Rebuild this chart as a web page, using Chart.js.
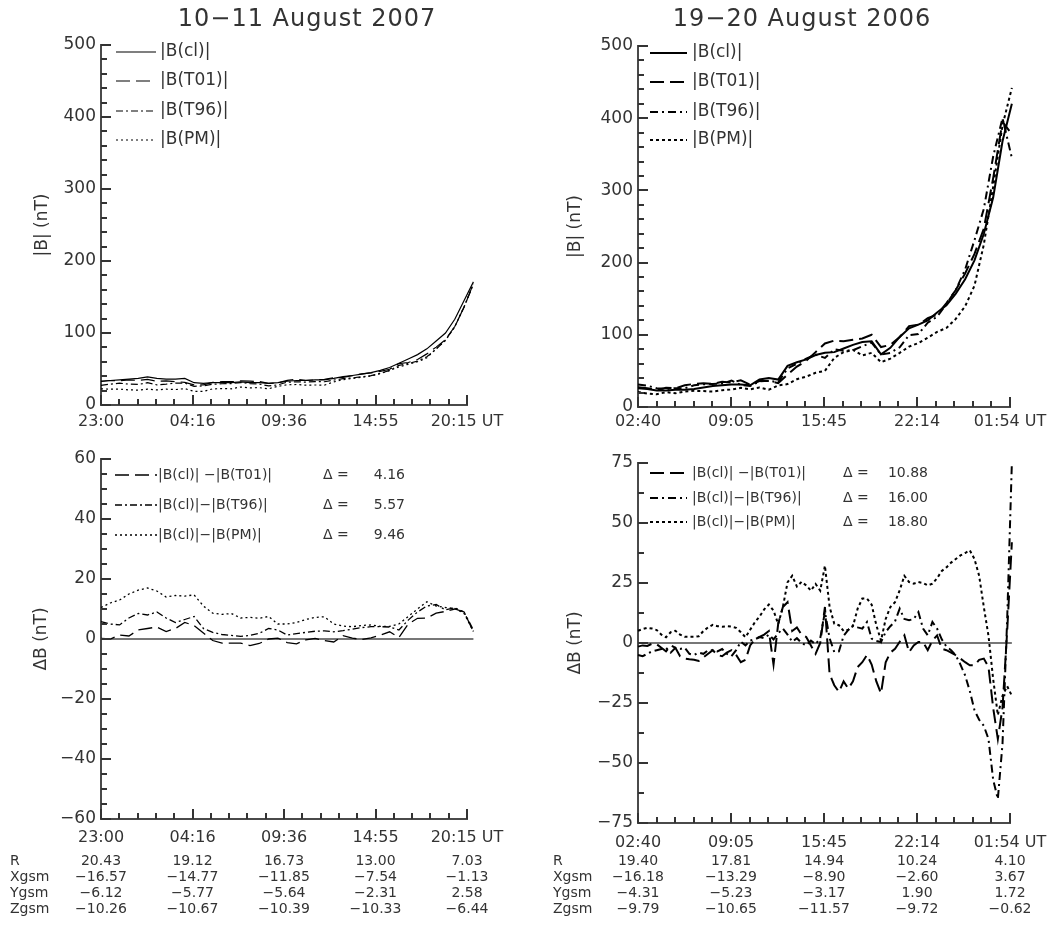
<!DOCTYPE html>
<html>
<head>
<meta charset="utf-8">
<script src="https://cdn.jsdelivr.net/npm/chart.js@4.4.1/dist/chart.umd.min.js"></script>
<style>
body { margin: 0; background: #fff; }
#wrap { position: relative; width: 1064px; height: 925px; background: #fff; }
canvas { position: absolute; }
</style>
</head>
<body>
<div id="wrap">
  <canvas id="tl" width="532" height="440" style="left:0;top:0"></canvas>
  <canvas id="tr" width="532" height="440" style="left:532px;top:0"></canvas>
  <canvas id="bl" width="532" height="485" style="left:0;top:440px"></canvas>
  <canvas id="br" width="532" height="485" style="left:532px;top:440px"></canvas>
</div>
<script>
// time axis labels (one per major tick)
const leftTimes = ['23:00', '04:16', '09:36', '14:55', '20:15 UT'];
const rightTimes = ['02:40', '09:05', '15:45', '22:14', '01:54 UT'];

// orbit rows under the lower panels
const rowNames = ['R', 'Xgsm', 'Ygsm', 'Zgsm'];
const leftR = ['20.43', '19.12', '16.73', '13.00', '7.03'];
const leftX = ['\u221216.57', '\u221214.77', '\u221211.85', '\u22127.54', '\u22121.13'];
const leftY = ['\u22126.12', '\u22125.77', '\u22125.64', '\u22122.31', '2.58'];
const leftZ = ['\u221210.26', '\u221210.67', '\u221210.39', '\u221210.33', '\u22126.44'];
const rightR = ['19.40', '17.81', '14.94', '10.24', '4.10'];
const rightX = ['\u221216.18', '\u221213.29', '\u22128.90', '\u22122.60', '3.67'];
const rightY = ['\u22124.31', '\u22125.23', '\u22123.17', '1.90', '1.72'];
const rightZ = ['\u22129.79', '\u221210.65', '\u221211.57', '\u22129.72', '\u22120.62'];

// y tick values / labels
const bTicks = [0, 100, 200, 300, 400, 500];
const bLabels = ['0', '100', '200', '300', '400', '500'];
const dLeftTicks = [-60, -40, -20, 0, 20, 40, 60];
const dLeftLabels = ['\u221260', '\u221240', '\u221220', '0', '20', '40', '60'];
const dRightTicks = [-75, -50, -25, 0, 25, 50, 75];
const dRightLabels = ['\u221275', '\u221250', '\u221225', '0', '25', '50', '75'];

// legends
const topNames = ['|B(cl)|', '|B(T01)|', '|B(T96)|', '|B(PM)|'];
const diffNames = ['|B(cl)| \u2212|B(T01)|', '|B(cl)|\u2212|B(T96)|', '|B(cl)|\u2212|B(PM)|'];
const leftDelta = ['4.16', '5.57', '9.46'];
const rightDelta = ['10.88', '16.00', '18.80'];

// 10-11 August 2007, |B| (nT), evenly sampled from 23:00 to end of pass
const leftEnd = 4.07;
const tlCl = [33,34,35,36,37, 39,37,36,36,37, 31,30,31,31,31, 32,31,31,30,31, 33,34,34,35,35, 37,39.5,41,43,45, 48,52,58,64,70, 78,89,100,119,145, 171];
const tlT01 = [32.8,34,33.7,35,34, 35.5,33,33.5,32.5,31.5, 28,28,31.5,32.4,32.4, 33.4,33.2,32.5,30,30.7, 34.2,35.6,34.3,34.8,35.5, 38,38.4,40.7,43.2,44.6, 46.7,49.6,57.5,59,63.1, 71,80.4,90.8,109,136, 168.6];
const tlT96 = [27.2,29,30.3,29,28.5, 31,28,29,30.5,30.5, 26,26.5,28.8,29.5,29.8, 31.1,29.8,29.1,26.5,28, 31.7,32.2,31.8,32.4,32.3, 34.6,36.7,37.7,39.2,40.9, 43.9,48,55,57.7,61, 67,77.5,90.3,108.6,136, 168];
const tlPm = [22.5,22,22,21,20.7, 22,21,22,21.5,22.7, 19,19,22.4,22.8,22.5, 25,23.8,24.1,22.5,26, 28,28.5,27.5,27.8,27.6, 32,35.2,36.9,38.5,40.3, 43.8,47.8,53,56.5,60, 65.6,78,89.5,108.8,136.5, 168.5];

// 10-11 August 2007, delta B (nT)
const blT01 = [0.2,0,1.3,1,3, 3.5,4,2.5,3.5,5.5, 4.5,2,-0.5,-1.4,-1.4, -1.4,-2.2,-1.5,0,0.3, -1.2,-1.6,-0.3,0.2,-0.5, -1,1.1,0.3,-0.2,0.4, 1.3,2.4,0.5,5,6.9, 7,8.6,9.2,10,9, 2.4];
const blT96 = [5.8,5,4.7,7,8.5, 8,9,7,5.5,6.5, 7.5,3.5,2.2,1.5,1.2, 0.9,1.2,1.9,3.5,3, 1.3,1.8,2.2,2.6,2.7, 2.4,2.8,3.3,3.8,4.1, 4.1,4,3,6.3,9, 11,11.5,9.7,10.4,9, 3];
const blPm = [10.5,12,13,15,16.3, 17,16,14,14.5,14.3, 14.7,11,8.6,8.2,8.5, 7,7.2,6.9,7.5,5, 5,5.5,6.5,7.2,7.4, 5,4.3,4.1,4.5,4.7, 4.2,4.2,5,7.5,10, 12.4,11,10.5,10.2,8.5, 2.5];

// 19-20 August 2006, |B| (nT)
const rightEnd = 4.02;
const trCl = [26,25,23,23,24, 24,25,27,29,30, 31,31,30,38,40, 38,57,62,66,72, 75,76,81,86,90, 91,73,82,97,109, 114,120,131,141,157, 177,203,240,290,368, 420];
const trT01 = [27.5,26,23.5,26.5,26, 30,32,33,32,35, 34,37,31,36,36, 33,45,56,64,76, 88,92,91,93,95, 100,83,86,97,112, 114,123,128,144,162, 185,212,247,317,395, 378];
const trT96 = [31,29.5,26,25,26, 26,30,31.5,32,32.5, 36.5,30.5,29,35.5,36.5, 34,53.5,60,67,72.5, 68,79.8,78,78.6,84, 89.2,72.6,75,82.7,99.5, 101,116.8,125,142.5,162, 190.5,231,274.5,347,400, 345];
const trPm = [20.9,18.7,17.6,20.6,18.9, 21.4,22.4,22,21.4,23.2, 24.2,26.5,24.5,27,24, 30,31.7,38.5,42,47.4, 50,68,76,79,71.5, 75,62,67,75,83.6, 88.6,96,104,109.5,122, 139.5,168,225,305,390, 442];

// 19-20 August 2006, delta B (nT)
const brT01 = [-1.5,-1,-1.2,-0.3,-0.5, -2,-3.5,-1,-2,-5.5, -6.5,-6.8,-7,-7.5,-6, -4.5,-3,-5,-5.5,-4, -3,-5,-8,-7,-1, 1.5,2.5,3.5,5,-9, 8,15,17,5,6.5, 3.5,2.5,-1,-4.5,0, 15,-13,-17.6,-20.4,-16, -19,-16,-10,-8,-5, -9,-16,-21,-8,-4, -2.4,0.5,3.2,-3.8,-1, 0.4,0.4,-3,1,3.2, -2.4,-3,-4,-5.1,-6.5, -8,-9.3,-9.3,-7,-6.5, -10,-27,-40,-27,5, 42];
const brT96 = [-5,-5.5,-4.5,-3.5,-3, -2.5,-2,-4,-2,-2.5, -2,-4.5,-5,-4,-4.5, -3,-3,-3.5,-2.5,-4.5, -5.5,-3,0.5,-1,1, 1.5,2.5,2,3.5,1.5, 4,6,3.5,0.5,2, 0,-1,1,-0.5,2, 13,2,-3.8,-3.5,3, 5.5,7.4,6.5,6,8.75, 1.8,0.8,0.4,4.6,7, 9,14.3,10,9.5,10, 12.9,6,3.2,8.75,6, 1.5,-1.5,-3,-5.1,-9, -13.5,-20,-28,-32,-34.5, -40,-57,-65,-42,10, 75];
const brPm = [5.1,5.8,6.3,6,5.4, 3.5,2.4,4.5,5.1,3.5, 2.6,2.6,2.6,2.8,5, 6.5,7.6,7,6.8,7, 6.8,6.3,4.5,2.4,5.5, 8.6,11,14,16,13.5, 7.9,15,25.3,28,23.5, 25.5,24,21.8,24.6,21.8, 32.2,15,8,7.4,5, 5.5,7,14.3,18.5,18.5, 16,7.4,1,10,15, 17,22,28,25.4,24.7, 25.4,25,24,24.7,27, 30,31.5,33.5,35,36.5, 37.5,38.6,35,28,15, 3,-15,-30,-22,-18, -22];

const FONT = "'DejaVu Sans', 'Liberation Sans', sans-serif";
const AXIS = '#4a4a4a';
const TXT = '#333';

function pts(arr, end) {
  return arr.map((v, i) => ({ x: i * end / (arr.length - 1), y: v }));
}

// IDL-like decorations: inward ticks, legend, title, row names
function idlPlugin(p) {
  return {
    id: 'idl',
    afterDraw(chart) {
      const ctx = chart.ctx;
      const a = chart.chartArea;
      const xs = chart.scales.x, ys = chart.scales.y;
      const tk = p.tick;
      ctx.save();
      ctx.fillStyle = tk.color;
      for (let i = 0; i <= 20; i++) {
        const px = Math.round(xs.getPixelForValue(i / 5));
        const len = i % 5 === 0 ? tk.major : tk.minor;
        ctx.fillRect(px - 1, a.bottom - len, 2, len);
      }
      const ny = Math.round((p.yMax - p.yMin) / p.yMinor);
      const every = Math.round(p.yMajor / p.yMinor);
      for (let i = 0; i <= ny; i++) {
        const py = Math.round(ys.getPixelForValue(p.yMin + i * p.yMinor));
        const len = i % every === 0 ? tk.major : tk.minor;
        ctx.fillRect(a.left, py - 1, len, 2);
      }

      // legend
      ctx.fillStyle = TXT;
      ctx.textBaseline = 'middle';
      p.legend.names.forEach((name, k) => {
        const ds = chart.data.datasets[p.legend.first + k];
        const y = a.top + p.legend.rows[k];
        ctx.strokeStyle = '#000';
        ctx.lineWidth = ds.borderWidth;
        ctx.setLineDash(ds.borderDash || []);
        ctx.beginPath();
        ctx.moveTo(a.left + p.legend.x0, y);
        ctx.lineTo(a.left + p.legend.x1, y);
        ctx.stroke();
        ctx.font = p.legend.size + 'px ' + FONT;
        ctx.textAlign = 'left';
        ctx.fillText(name, a.left + p.legend.tx, y);
        if (p.legend.delta) {
          ctx.fillText('\u0394 =', a.left + p.legend.dx, y);
          ctx.textAlign = 'right';
          ctx.fillText(p.legend.delta[k], a.left + p.legend.vx, y);
        }
      });

      // title
      if (p.title) {
        ctx.font = '24px ' + FONT;
        ctx.letterSpacing = '1px';
        ctx.textAlign = 'center';
        ctx.textBaseline = 'middle';
        ctx.fillText(p.title, p.titleX, 20);
        ctx.letterSpacing = '0px';
      }
      // orbit row names
      if (p.rowsY) {
        ctx.font = '14px ' + FONT;
        ctx.textAlign = 'left';
        ctx.textBaseline = 'middle';
        rowNames.forEach((r, k) => ctx.fillText(r, p.rowNameX, p.rowsY + 16 * k));
      }
      ctx.restore();
    }
  };
}

function makePanel(id, p) {
  const dashes = p.dashes;
  const datasets = p.series.map((s, k) => ({
    label: s.name,
    data: pts(s.values, p.xEnd),
    xAxisID: 'x',
    borderColor: '#000',
    borderWidth: p.lw,
    borderDash: dashes[k],
    pointRadius: 0,
    tension: 0,
    clip: false
  }));
  if (p.zero) {
    datasets.push({
      label: 'zero', data: [{ x: 0, y: 0 }, { x: p.xEnd, y: 0 }], xAxisID: 'x',
      borderColor: AXIS, borderWidth: 1.5, pointRadius: 0, clip: false
    });
  }
  const scales = {
    x: {
      type: 'linear', position: 'bottom', min: 0, max: 4, weight: 0,
      grid: { display: false, drawTicks: false },
      border: { display: true, color: AXIS, width: 2 },
      afterBuildTicks: s => { s.ticks = p.times.map((t, i) => ({ value: i })); },
      afterFit: s => { s.height = p.xH; },
      ticks: {
        autoSkip: false, maxRotation: 0, minRotation: 0, padding: p.xPad, color: TXT,
        font: { family: FONT, size: 16 },
        callback: v => p.times[Math.round(v)]
      }
    },
    y: {
      type: 'linear', position: 'left', min: p.yMin, max: p.yMax,
      grid: { display: false, drawTicks: false },
      border: { display: true, color: AXIS, width: 2 },
      afterBuildTicks: s => { s.ticks = p.yTicks.map(v => ({ value: v })); },
      afterFit: s => { s.width = p.yW; },
      title: {
        display: true, text: p.yTitle, color: TXT,
        font: { family: FONT, size: 17 }, padding: { top: p.yTitlePad, bottom: 0 }
      },
      ticks: {
        padding: 5, color: TXT, font: { family: FONT, size: 17 },
        callback: v => p.yLabels[p.yTicks.indexOf(v)]
      }
    }
  };
  if (p.rows) {
    scales.x2 = {
      type: 'linear', position: 'bottom', min: 0, max: 4, weight: 1,
      grid: { display: false, drawTicks: false },
      border: { display: false },
      afterBuildTicks: s => { s.ticks = p.times.map((t, i) => ({ value: i })); },
      afterFit: s => { s.height = p.x2H; },
      ticks: {
        autoSkip: false, maxRotation: 0, minRotation: 0, padding: 6, color: TXT,
        font: { family: FONT, size: 14, lineHeight: 16 / 14 },
        callback: v => p.rows.map(r => r[Math.round(v)])
      }
    };
  }
  return new Chart(document.getElementById(id), {
    type: 'line',
    data: { datasets },
    options: {
      responsive: false,
      animation: false,
      devicePixelRatio: 1,
      layout: { padding: p.pad },
      plugins: { legend: { display: false }, tooltip: { enabled: false } },
      scales
    },
    plugins: [idlPlugin(p)]
  });
}

const thinDash = [[], [14, 6], [7, 3, 2, 3], [2, 3]];
const thickDash = [[], [14, 6], [8, 4, 2, 4], [3, 3]];
const normalTicks = { color: '#333', major: 10, minor: 6 };

makePanel('tl', {
  title: '10\u221211 August 2007', titleX: 307,
  xEnd: leftEnd, times: leftTimes, xH: 35, xPad: 7,
  yMin: 0, yMax: 500, yMinor: 20, yMajor: 100, yTicks: bTicks, yLabels: bLabels,
  yW: 101, yTitle: '|B| (nT)', yTitlePad: 32,
  pad: { left: 0, top: 45, right: 65, bottom: 0 },
  lw: 1.2, dashes: thinDash, tick: normalTicks,
  series: [{ name: topNames[0], values: tlCl }, { name: topNames[1], values: tlT01 },
           { name: topNames[2], values: tlT96 }, { name: topNames[3], values: tlPm }],
  legend: { names: topNames, first: 0, rows: [7, 36, 66, 95], x0: 15, x1: 55, tx: 59, size: 17 }
});

makePanel('tr', {
  title: '19\u221220 August 2006', titleX: 270,
  xEnd: rightEnd, times: rightTimes, xH: 33, xPad: 5,
  yMin: 0, yMax: 500, yMinor: 20, yMajor: 100, yTicks: bTicks, yLabels: bLabels,
  yW: 106, yTitle: '|B| (nT)', yTitlePad: 33,
  pad: { left: 0, top: 46, right: 54, bottom: 0 },
  lw: 2, dashes: thickDash, tick: normalTicks,
  series: [{ name: topNames[0], values: trCl }, { name: topNames[1], values: trT01 },
           { name: topNames[2], values: trT96 }, { name: topNames[3], values: trPm }],
  legend: { names: topNames, first: 0, rows: [7, 36, 66, 94], x0: 12, x1: 49, tx: 54, size: 17 }
});

makePanel('bl', {
  xEnd: leftEnd, times: leftTimes, xH: 28, xPad: 9,
  rows: [leftR, leftX, leftY, leftZ], x2H: 78, rowsY: 421, rowNameX: 10,
  yMin: -60, yMax: 60, yMinor: 5, yMajor: 20, yTicks: dLeftTicks, yLabels: dLeftLabels,
  yW: 101, yTitle: '\u0394B (nT)', yTitlePad: 31,
  pad: { left: 0, top: 19, right: 65, bottom: 0 },
  lw: 1.3, dashes: thinDash.slice(1), zero: true, tick: normalTicks,
  series: [{ name: diffNames[0], values: blT01 }, { name: diffNames[1], values: blT96 },
           { name: diffNames[2], values: blPm }],
  legend: { names: diffNames, first: 0, rows: [16, 46, 76], x0: 14, x1: 56, tx: 57, size: 14,
            delta: leftDelta, dx: 222, vx: 304 }
});

makePanel('br', {
  xEnd: rightEnd, times: rightTimes, xH: 24, xPad: 10,
  rows: [rightR, rightX, rightY, rightZ], x2H: 78, rowsY: 421, rowNameX: 21,
  yMin: -75, yMax: 75, yMinor: 12.5, yMajor: 25, yTicks: dRightTicks, yLabels: dRightLabels,
  yW: 106, yTitle: '\u0394B (nT)', yTitlePad: 33,
  pad: { left: 0, top: 23, right: 54, bottom: 0 },
  lw: 2, dashes: thickDash.slice(1), zero: true, tick: normalTicks,
  series: [{ name: diffNames[0], values: brT01 }, { name: diffNames[1], values: brT96 },
           { name: diffNames[2], values: brPm }],
  legend: { names: diffNames, first: 0, rows: [10, 35, 59], x0: 12, x1: 49, tx: 54, size: 14,
            delta: rightDelta, dx: 205, vx: 290 }
});
</script>
</body>
</html>
